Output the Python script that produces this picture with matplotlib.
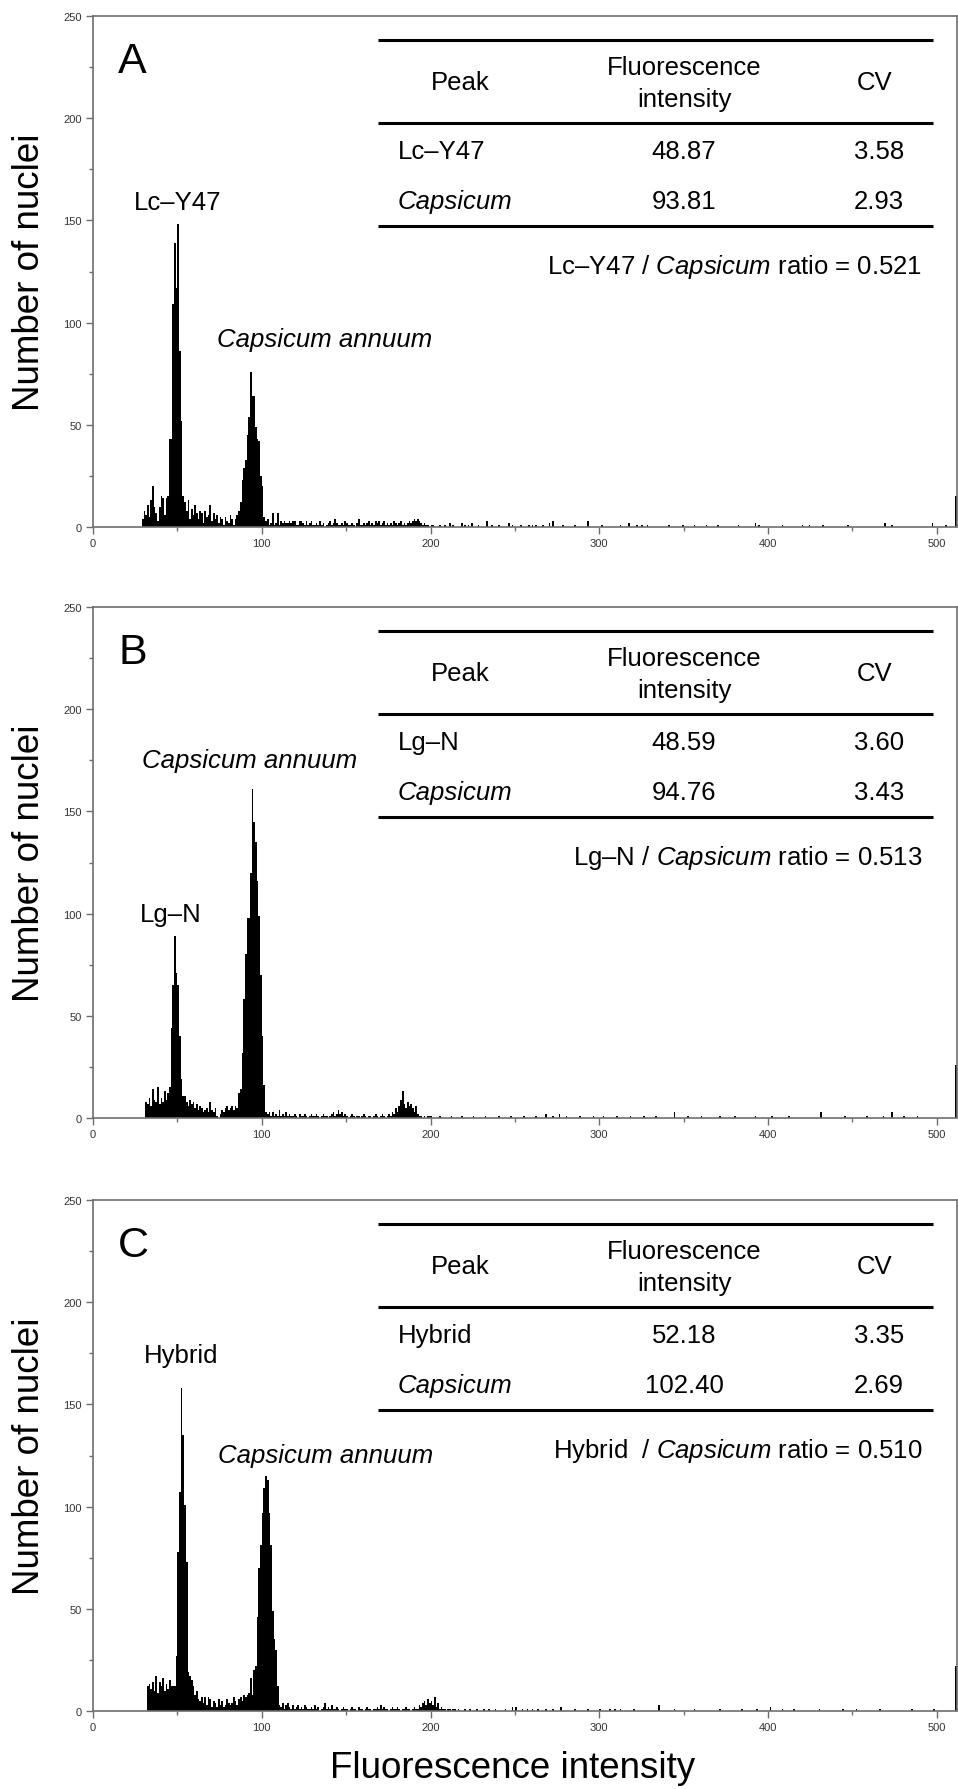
import numpy as np
import matplotlib
matplotlib.use("Agg")
import matplotlib.pyplot as plt
from matplotlib.ticker import MultipleLocator

plt.rcParams['font.family'] = ['Liberation Sans', 'DejaVu Sans']
plt.rcParams['mathtext.fontset'] = 'custom'
plt.rcParams['mathtext.rm'] = 'Liberation Sans'
plt.rcParams['mathtext.it'] = 'Liberation Sans:italic'

# ---------------- data ----------------
panel_letters = ["A", "B", "C"]

# dense histogram segments: first channel + counts per channel
A_start = 29
A_counts = [4, 8, 6, 11, 5, 13, 20, 10, 7, 3, 10, 15, 14, 6, 14, 15,
            43, 43, 109, 139, 117, 148, 86, 52, 15,
            12, 8, 13, 4, 9, 6, 11, 7, 4, 8, 7, 2, 8, 5, 6, 11, 3, 7, 4, 6, 2, 5, 4, 1, 5, 3, 2, 6, 4, 1, 4, 6,
            8, 12, 23, 29, 33, 45, 54, 76, 64, 64, 49, 43, 42, 25, 20, 5,
            3, 4, 1, 2, 7, 1, 2, 7, 1, 3, 2, 3, 2, 2, 3, 2, 3, 3, 1, 1, 3, 3, 2, 1, 3, 1, 2, 3, 1, 1,
            2, 1, 3, 1, 2, 0, 1, 2, 3, 1, 2, 4, 2, 1, 1, 2, 1, 3, 2, 1, 1, 2, 1, 0, 2, 4, 1, 1, 2, 1,
            2, 3, 1, 2, 1, 3, 2, 3, 1, 2, 3, 1, 2, 1, 2, 1, 3, 2, 1, 2, 3, 1, 2, 1, 2, 3, 2, 3, 4, 3,
            4, 3, 2, 1, 2, 1, 1, 0, 1]
A_tail_ch = [201, 205, 208, 211, 213, 218, 220, 222, 224, 228, 233, 236, 240, 246, 248, 253, 258, 260,
             262, 266, 270, 272, 278, 285, 293, 301, 312, 317, 322, 325, 328, 341, 349, 356, 363, 370,
             382, 392, 394, 408, 420, 424, 432, 447, 469, 473, 497, 505, 511]
A_tail_n = [1, 1, 1, 2, 1, 2, 1, 1, 2, 1, 3, 1, 1, 2, 1, 1, 1, 1,
            1, 1, 2, 3, 1, 1, 3, 1, 1, 2, 1, 1, 1, 1, 1, 1, 1, 1,
            1, 2, 1, 1, 1, 1, 1, 1, 2, 1, 2, 1, 15]

B_start = 31
B_counts = [8, 7, 10, 6, 14, 9, 8, 15, 7, 10, 8, 13, 9, 12,
            15, 44, 65, 89, 71, 65, 40, 19, 11, 11,
            8, 6, 9, 7, 8, 5, 7, 4, 6, 5, 3, 4, 5, 3, 8, 4, 3, 5, 1, 0, 2, 4, 3, 5, 6, 4, 5, 6, 4, 6, 5,
            12, 14, 32, 58, 80, 98, 98, 120, 161, 145, 135, 116, 99, 70, 40, 16, 3,
            2, 3, 1, 3, 1, 2, 1, 4, 1, 2, 1, 3, 1, 2, 1, 1, 2, 1, 0, 2, 1, 1, 2, 1, 0, 1, 2, 1, 1, 2,
            1, 0, 1, 2, 1, 1, 0, 1, 2, 3, 1, 2, 4, 2, 3, 1, 2, 1, 0, 1, 2, 1, 0, 1, 1, 0, 1, 2, 1, 0,
            1, 1, 0, 1, 2, 1, 0, 1, 2, 1, 0, 1, 2, 1, 3, 2, 5, 3, 6, 9, 13, 7, 5, 8, 6, 7, 5, 3, 6, 2,
            1, 1, 0, 1, 0, 1, 1, 0]
B_tail_ch = [196, 200, 205, 212, 218, 225, 232, 240, 247, 255, 262, 268, 272, 276, 280, 288, 296, 302,
             310, 318, 326, 333, 344, 352, 360, 371, 380, 392, 402, 412, 431, 445, 458, 468, 473, 480,
             488, 511]
B_tail_n = [1, 1, 1, 1, 1, 1, 1, 1, 1, 1, 1, 2, 1, 2, 1, 1, 1, 1,
            1, 1, 1, 1, 3, 1, 1, 1, 1, 1, 1, 1, 3, 1, 1, 1, 3, 1,
            1, 26]

C_start = 32
C_counts = [12, 13, 11, 14, 10, 17, 9, 14, 12, 16, 10, 13, 11, 15, 12, 12,
            12, 27, 78, 107, 158, 135, 101, 73, 19, 17, 15, 12,
            8, 10, 6, 5, 7, 4, 7, 3, 7, 6, 2, 5, 4, 2, 6, 3, 5, 2, 3, 6, 4, 3, 4, 7, 5, 3, 6, 7, 5, 8, 7, 8, 9,
            16, 8, 20, 22, 46, 70, 81, 97, 109, 115, 113, 97, 81, 49, 35, 30, 12, 3, 2,
            4, 1, 3, 4, 2, 1, 3, 1, 2, 3, 1, 2, 1, 3, 2, 1, 1, 2, 1, 3, 1, 2, 0, 1, 2, 4, 1, 2, 1, 3,
            1, 1, 2, 1, 0, 1, 2, 1, 1, 0, 1, 2, 1, 1, 0, 2, 1, 1, 0, 1, 2, 1, 1, 0, 1, 1, 2, 1, 3, 1,
            2, 1, 1, 0, 1, 2, 1, 1, 2, 1, 0, 1, 1, 2, 1, 1, 0, 1, 2, 1, 1, 3, 2, 4, 5, 3, 6, 4, 5, 3,
            7, 2, 4, 1, 2, 1, 1, 0, 1, 1, 0, 1, 1, 0]
C_tail_ch = [216, 220, 223, 227, 231, 234, 238, 244, 248, 250, 254, 257, 260, 263, 268, 272, 277, 285,
             293, 300, 306, 309, 312, 320, 335, 344, 356, 371, 384, 393, 401, 408, 415, 430, 444, 452,
             466, 485, 498, 511]
C_tail_n = [1, 1, 1, 1, 1, 1, 1, 1, 2, 2, 1, 1, 1, 1, 1, 1, 2, 1,
            1, 1, 1, 1, 1, 1, 3, 1, 1, 1, 1, 1, 2, 1, 1, 1, 1, 1,
            1, 1, 1, 22]

# table contents
header_peak = "Peak"
header_fi = ["Fluorescence", "intensity"]
header_cv = "CV"
row_names = [["Lc\u2013Y47", "Capsicum"], ["Lg\u2013N", "Capsicum"], ["Hybrid", "Capsicum"]]
row_italic = [False, True]
intensities = [["48.87", "93.81"], ["48.59", "94.76"], ["52.18", "102.40"]]
cvs = [["3.58", "2.93"], ["3.60", "3.43"], ["3.35", "2.69"]]
ratio_texts = [r"Lc–Y47 / $\mathit{Capsicum}$ ratio = 0.521",
               r"Lg–N / $\mathit{Capsicum}$ ratio = 0.513",
               r"Hybrid  / $\mathit{Capsicum}$ ratio = 0.510"]

# peak labels: (text, italic, x, y) in data units
peak_labels = [
    [("Lc\u2013Y47", False, 50, 159), ("Capsicum annuum", True, 137, 92)],
    [("Capsicum annuum", True, 93, 175), ("Lg\u2013N", False, 46, 100)],
    [("Hybrid", False, 52, 174), ("Capsicum annuum", True, 138, 125)],
]

panels = [
    (A_start, A_counts, A_tail_ch, A_tail_n),
    (B_start, B_counts, B_tail_ch, B_tail_n),
    (C_start, C_counts, C_tail_ch, C_tail_n),
]

# ---------------- figure ----------------
W, H = 958, 1790
fig = plt.figure(figsize=(W / 100, H / 100), dpi=100)
left = 93 / W
width = 864 / W
height = 511 / H
bottoms_px = [528, 1119, 1712]

tick_font = dict(family=['Liberation Sans Narrow', 'Liberation Sans'], size=8, color='#333333')
fs = 18.5
spine_col = '#6e6e6e'

for i, (start, counts, tch, tn) in enumerate(panels):
    ax = fig.add_axes([left, 1 - bottoms_px[i] / H, width, height])
    ch = start + np.arange(len(counts))
    ax.bar(ch, counts, width=1.0, align='edge', color='black', linewidth=0)
    ax.bar(tch, tn, width=1.0, align='edge', color='black', linewidth=0)
    ax.set_xlim(0, 512)
    ax.set_ylim(0, 250)
    ax.xaxis.set_major_locator(MultipleLocator(100))
    ax.xaxis.set_minor_locator(MultipleLocator(50))
    ax.yaxis.set_major_locator(MultipleLocator(50))
    ax.yaxis.set_minor_locator(MultipleLocator(25))
    ax.tick_params(which='major', length=5, width=1, color=spine_col, direction='out', pad=3)
    ax.tick_params(which='minor', length=3, width=1, color=spine_col, direction='out')
    for lab in ax.get_xticklabels() + ax.get_yticklabels():
        lab.set_fontfamily(tick_font['family'])
        lab.set_fontsize(tick_font['size'])
        lab.set_color(tick_font['color'])
    for s in ax.spines.values():
        s.set_color(spine_col)
        s.set_linewidth(1.2)

    # y label
    ax.text(-0.074, 0.5, "Number of nuclei", transform=ax.transAxes, rotation=90,
            ha='center', va='center', fontsize=26.5)
    # panel letter
    ax.text(0.029, 0.890, panel_letters[i], transform=ax.transAxes, fontsize=31,
            ha='left', va='baseline')

    # table lines
    for yy in (0.953, 0.791, 0.589):
        ax.plot([0.330, 0.972], [yy, yy], transform=ax.transAxes, color='black',
                lw=2.2, solid_capstyle='butt', clip_on=False)
    ax.text(0.425, 0.871, header_peak, transform=ax.transAxes, ha='center', va='center', fontsize=fs)
    ax.text(0.684, 0.900, header_fi[0], transform=ax.transAxes, ha='center', va='center', fontsize=fs)
    ax.text(0.684, 0.838, header_fi[1], transform=ax.transAxes, ha='center', va='center', fontsize=fs)
    ax.text(0.905, 0.871, header_cv, transform=ax.transAxes, ha='center', va='center', fontsize=fs)
    for r, yy in enumerate((0.736, 0.638)):
        ax.text(0.353, yy, row_names[i][r], transform=ax.transAxes, ha='left', va='center',
                fontsize=fs, style='italic' if row_italic[r] else 'normal')
        ax.text(0.684, yy, intensities[i][r], transform=ax.transAxes, ha='center', va='center', fontsize=fs)
        ax.text(0.910, yy, cvs[i][r], transform=ax.transAxes, ha='center', va='center', fontsize=fs)
    ax.text(0.960, 0.510, ratio_texts[i], transform=ax.transAxes, ha='right', va='center', fontsize=fs)

    for (txt, it, x, y) in peak_labels[i]:
        ax.text(x, y, txt, ha='center', va='center', fontsize=fs,
                style='italic' if it else 'normal')

fig.text(513 / W, 1 - 1778 / H, "Fluorescence intensity", ha='center', va='baseline', fontsize=26.5)

fig.savefig("out.png", dpi=100)
